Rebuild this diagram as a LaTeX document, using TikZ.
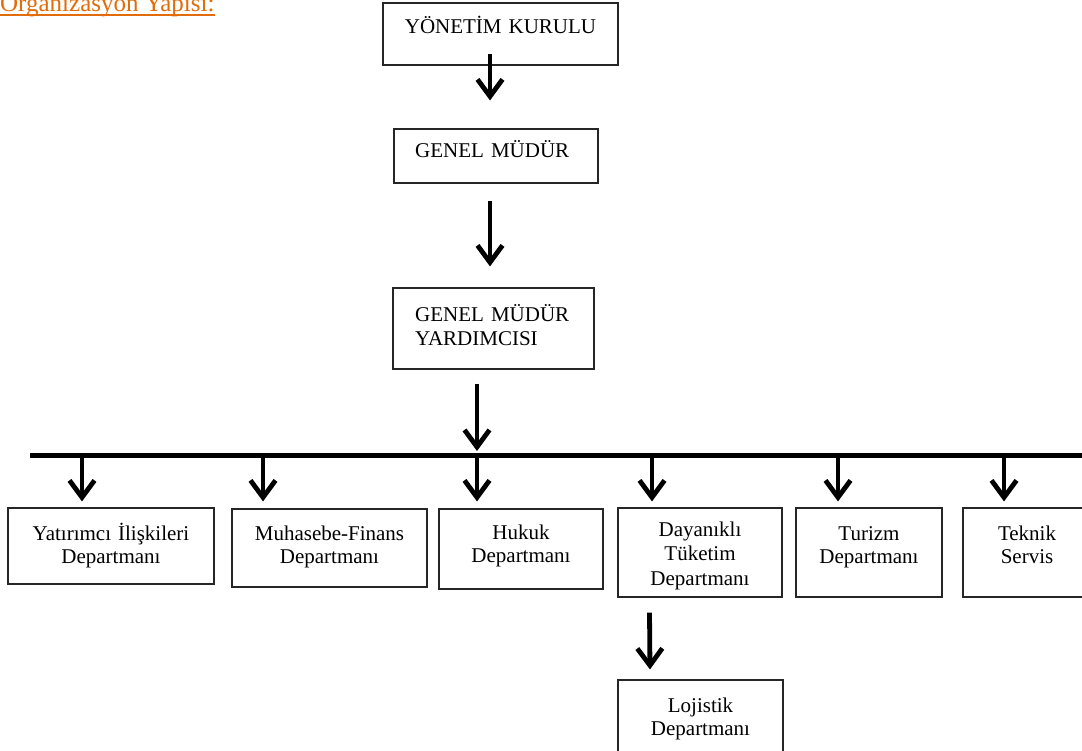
\documentclass[tikz,border=0pt]{standalone}
\usepackage{fontspec}
\setmainfont{Liberation Serif}
\usetikzlibrary{arrows.meta}
\definecolor{titleorange}{HTML}{E36C0A}
\begin{document}
\begin{tikzpicture}[x=1pt,y=-1pt,
  boxnode/.style={draw=black!85, line width=1.1pt, rectangle, inner sep=0pt},
  lbl/.style={font=\fontsize{21}{23.5}\selectfont, align=center, anchor=base, inner sep=0pt, text width=#1},
  llbl/.style={font=\fontsize{21}{23.5}\selectfont, align=left, anchor=base west, inner sep=0pt, text width=#1},
  arr/.style={line width=4.8pt, -{Straight Barb[length=17pt,width=25pt]}},
  barline/.style={line width=5pt}]
\useasboundingbox (0,0) rectangle (1082,751);
\clip (0,0) rectangle (1082,751);

% title
\node[font=\fontsize{25}{28}\selectfont, text=titleorange, anchor=base west, inner sep=0pt] (title) at (0,12) {Organizasyon Yapısı:};
\draw[titleorange, line width=1.6pt] ([yshift=-3pt]title.base west) -- ([yshift=-3pt]title.base east);

% top chain
\node[boxnode, minimum width=235pt, minimum height=62pt] (yk) at (500.5,34) {};
\node[lbl=230pt] (ykt) at (500.5,34) {YÖNETİM KURULU};

\node[boxnode, minimum width=204pt, minimum height=54pt] (gm) at (496,156) {};
\node[llbl=180pt] (gmt) at (415,158) {GENEL MÜDÜR};

\node[boxnode, minimum width=201pt, minimum height=81pt] (gmy) at (493.5,328.5) {};
\node[llbl=175pt] (gmyt) at (415,322) {GENEL MÜDÜR\\YARDIMCISI};

\draw[arr] ([xshift=-10.5pt,yshift=12pt]yk.south) -- ([xshift=-6pt,yshift=28pt]gm.north);
\draw[arr] ([xshift=-6pt,yshift=-17pt]gm.south) -- ([xshift=-3.5pt,yshift=21pt]gmy.north);

% bar
\coordinate (barL) at (30,455);
\coordinate (barR) at (1095,455);
\coordinate (hub) at (477,455);
\draw[barline] (barL) -- (barR);
\draw[arr] ([xshift=-16.5pt,yshift=-14pt]gmy.south) -- ([yshift=4pt]hub);

% departments
\node[boxnode, minimum width=206pt, minimum height=76pt] (b1) at (111,546) {};
\node[lbl=204pt] (b1t) at (111,540) {Yatırımcı İlişkileri\\Departmanı};

\node[boxnode, minimum width=195pt, minimum height=78pt] (b2) at (329.5,548) {};
\node[lbl=193pt] (b2t) at (329.5,540) {Muhasebe-Finans\\Departmanı};

\node[boxnode, minimum width=164pt, minimum height=80pt] (b3) at (521,549) {};
\node[lbl=162pt] (b3t) at (521,539) {Hukuk\\Departmanı};

\node[boxnode, minimum width=164pt, minimum height=89pt] (b4) at (700,552.5) {};
\node[lbl=162pt, font=\fontsize{21}{24.5}\selectfont] (b4t) at (700,536) {Dayanıklı\\Tüketim\\Departmanı};

\node[boxnode, minimum width=146pt, minimum height=89pt] (b5) at (869,552.5) {};
\node[lbl=144pt] (b5t) at (869,540) {Turizm\\Departmanı};

\node[boxnode, minimum width=128pt, minimum height=89pt] (b6) at (1027,552.5) {};
\node[lbl=126pt] (b6t) at (1027,540) {Teknik\\Servis};

\node[boxnode, minimum width=165pt, minimum height=90pt] (lo) at (700.5,725) {};
\node[lbl=163pt] (lot) at (700.5,712) {Lojistik\\Departmanı};

\draw[arr] ([xshift=-29pt,yshift=53pt]b1.north) -- ([xshift=-29pt,yshift=6pt]b1.north);
\draw[arr] ([xshift=-66.5pt,yshift=54pt]b2.north) -- ([xshift=-66.5pt,yshift=7pt]b2.north);
\draw[arr] ([xshift=-44pt,yshift=54pt]b3.north) -- ([xshift=-44pt,yshift=7pt]b3.north);
\draw[arr] ([xshift=-48pt,yshift=53pt]b4.north) -- ([xshift=-48pt,yshift=6pt]b4.north);
\draw[arr] ([xshift=-31pt,yshift=53pt]b5.north) -- ([xshift=-31pt,yshift=6pt]b5.north);
\draw[arr] ([xshift=-23pt,yshift=53pt]b6.north) -- ([xshift=-23pt,yshift=6pt]b6.north);
\draw[arr] ([xshift=-50.5pt,yshift=-15pt]b4.south) -- ([xshift=-50.5pt,yshift=10pt]lo.north);
\end{tikzpicture}
\end{document}
